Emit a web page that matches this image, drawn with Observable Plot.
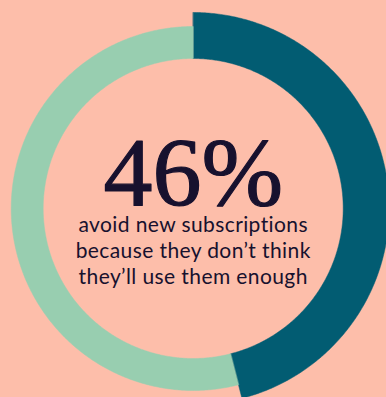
<!DOCTYPE html>
<html>
<head>
<meta charset="utf-8">
<script src="https://cdn.jsdelivr.net/npm/d3@7"></script>
<script src="https://cdn.jsdelivr.net/npm/@observablehq/plot@0.6"></script>
<style>
  html, body { margin: 0; padding: 0; background: #fdbeaa; overflow: hidden; }
  #chart svg { display: block; }
</style>
</head>
<body>
<div id="chart"></div>
<script>
// ---- data ----
const categories = ["Avoid new subscriptions", "Other"];
const values = [46, 54];
const colors = ["#025c72", "#98ceb0"];
const headline = "46%";
const captionLines = [
  "avoid new subscriptions",
  "because they don\u2019t think",
  "they\u2019ll use them enough"
];

// ---- layout (not data) ----
const W = 386, H = 397;
const CX = 192.7, CY = 208;
const innerR = 150;
const outerR = [196, 182]; // highlighted slice is thicker
const total = d3.sum(values);

// build slice polygons from the values
const ringPoints = [];
let acc = 0;
categories.forEach((cat, i) => {
  const a0 = (acc / total) * 2 * Math.PI;
  acc += values[i];
  const a1 = (acc / total) * 2 * Math.PI;
  const n = Math.max(2, Math.ceil((a1 - a0) / (Math.PI / 360)));
  const pts = [];
  for (let k = 0; k <= n; k++) {
    const a = a0 + (a1 - a0) * k / n;
    pts.push({category: cat, x: CX + outerR[i] * Math.sin(a), y: CY - outerR[i] * Math.cos(a)});
  }
  for (let k = n; k >= 0; k--) {
    const a = a0 + (a1 - a0) * k / n;
    pts.push({category: cat, x: CX + innerR * Math.sin(a), y: CY - innerR * Math.cos(a)});
  }
  ringPoints.push(...pts);
});

const textColor = "#17112e";
const capBaseline = 231.5, capStep = 26.2;

const chart = Plot.plot({
  width: W,
  height: H,
  margin: 0,
  style: {background: "#fdbeaa", overflow: "hidden"},
  x: {domain: [0, W], range: [0, W], axis: null},
  y: {domain: [0, H], range: [0, H], axis: null},
  color: {domain: categories, range: colors},
  marks: [
    Plot.line(ringPoints, {x: "x", y: "y", z: "category", fill: "category", stroke: "category", strokeWidth: 0.5, curve: "linear-closed"}),
    Plot.text([headline], {
      x: () => CX, y: () => 204, text: d => d,
      lineAnchor: "bottom", textAnchor: "middle",
      fontFamily: "Liberation Serif", fontSize: 98, fill: textColor,
      stroke: textColor, strokeWidth: 1.2
    }),
    Plot.text(captionLines, {
      x: () => CX, y: (d, i) => capBaseline + i * capStep, text: d => d,
      lineAnchor: "bottom", textAnchor: "middle",
      fontFamily: "Lato", fontSize: 21, fill: textColor,
      style: "letter-spacing: 0.4px"
    })
  ]
});
chart.querySelectorAll("text").forEach(t => {
  if (t.textContent !== headline) t.style.letterSpacing = "0.4px";
});
document.getElementById("chart").append(chart);
</script>
</body>
</html>
